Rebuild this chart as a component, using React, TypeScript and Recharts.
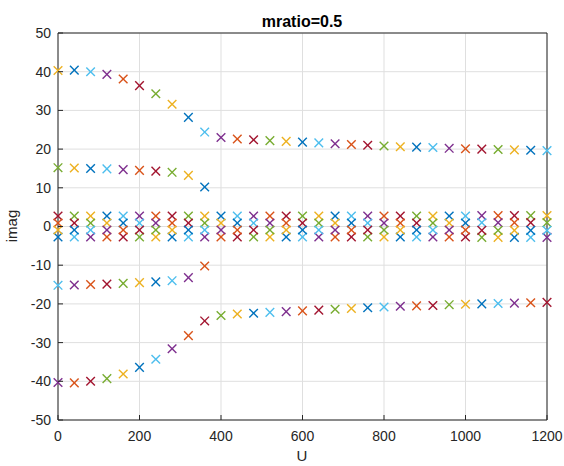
import React from 'react';
import { ScatterChart, Scatter, XAxis, YAxis, CartesianGrid } from 'recharts';

const U = [0, 40, 80, 120, 160, 200, 240, 280, 320, 360, 400, 440, 480, 520, 560, 600, 640, 680, 720, 760, 800, 840, 880, 920, 960, 1000, 1040, 1080, 1120, 1160, 1200];

const imagTop = [40.3, 40.4, 40.0, 39.3, 38.1, 36.4, 34.3, 31.6, 28.2, 24.4, 23.0, 22.6, 22.4, 22.2, 22.0, 21.8, 21.6, 21.4, 21.2, 21.0, 20.8, 20.6, 20.5, 20.4, 20.2, 20.1, 20.0, 19.9, 19.8, 19.7, 19.6];
const imagBottom = [-40.3, -40.4, -40.0, -39.3, -38.1, -36.4, -34.3, -31.6, -28.2, -24.4, -23.0, -22.6, -22.4, -22.2, -22.0, -21.8, -21.6, -21.4, -21.2, -21.0, -20.8, -20.6, -20.5, -20.4, -20.2, -20.1, -20.0, -19.9, -19.8, -19.7, -19.6];
const imagSecond = [15.2, 15.1, 15.0, 14.9, 14.7, 14.5, 14.3, 14.0, 13.2, 10.2];
const imagNegSecond = [-15.2, -15.1, -15.0, -14.9, -14.7, -14.5, -14.3, -14.0, -13.2, -10.2];
const imagNearPos2 = [2.7, 2.7, 2.7, 2.7, 2.7, 2.7, 2.7, 2.7, 2.7, 2.7, 2.7, 2.7, 2.7, 2.7, 2.7, 2.7, 2.7, 2.7, 2.7, 2.7, 2.7, 2.7, 2.7, 2.7, 2.7, 2.7, 2.8, 2.8, 2.8, 2.8, 2.8];
const imagNearNeg2 = [-2.7, -2.7, -2.7, -2.7, -2.7, -2.7, -2.7, -2.7, -2.7, -2.7, -2.7, -2.7, -2.7, -2.7, -2.7, -2.7, -2.7, -2.7, -2.7, -2.7, -2.7, -2.7, -2.7, -2.7, -2.7, -2.7, -2.8, -2.8, -2.8, -2.8, -2.8];
const imagNearPos1 = [0.9, 0.9, 0.9, 0.9, 0.9, 0.9, 0.9, 0.9, 0.9, 0.9, 0.9, 0.9, 0.9, 0.9, 0.9, 0.9, 0.9, 0.9, 0.9, 0.9, 0.9, 0.9, 0.9, 0.9, 0.9, 0.9, 1.0, 1.0, 1.0, 1.0, 1.0];
const imagNearNeg1 = [-0.9, -0.9, -0.9, -0.9, -0.9, -0.9, -0.9, -0.9, -0.9, -0.9, -0.9, -0.9, -0.9, -0.9, -0.9, -0.9, -0.9, -0.9, -0.9, -0.9, -0.9, -0.9, -0.9, -0.9, -0.9, -0.9, -1.0, -1.0, -1.0, -1.0, -1.0];

const xTicks = [0, 200, 400, 600, 800, 1000, 1200];
const yTicks = [-50, -40, -30, -20, -10, 0, 10, 20, 30, 40, 50];

const PALETTE = ['#0072BD', '#D95319', '#EDB120', '#7E2F8E', '#77AC30', '#4DBEEE', '#A2142F'];
const EIGS_PER_STEP = 12;

const seriesList = [imagTop, imagBottom, imagSecond, imagNegSecond, imagNearPos2, imagNearNeg2, imagNearPos1, imagNearNeg1];

type Pt = { x: number; y: number; c: string };
const points: Pt[] = [];
U.forEach((u, col) => {
  seriesList.forEach((s, j) => {
    const v = s[col];
    if (v === undefined || v === null) return;
    points.push({ x: u, y: v, c: PALETTE[(col * EIGS_PER_STEP + j + 2) % 7] });
  });
});

const AX = '#262626';
const FONT = '"Liberation Sans", Arial, Helvetica, sans-serif';

const XMarker = (props: any) => {
  const { cx, cy, payload } = props;
  if (cx == null || cy == null) return <g />;
  const r = 4.3;
  return (
    <g stroke={payload.c} strokeWidth={1.4}>
      <line x1={cx - r} y1={cy - r} x2={cx + r} y2={cy + r} />
      <line x1={cx - r} y1={cy + r} x2={cx + r} y2={cy - r} />
    </g>
  );
};

const PLOT = { left: 58, right: 547, top: 33, bottom: 420 };

const BottomTick = (props: any) => {
  const { x, payload } = props;
  const y = PLOT.bottom;
  return (
    <g>
      <line x1={x} x2={x} y1={y} y2={y - 5} stroke={AX} />
      <text x={x} y={y + 21} textAnchor="middle" fontSize={14} fontFamily={FONT} fill={AX}>
        {payload.value}
      </text>
    </g>
  );
};
const TopTick = (props: any) => {
  const { x } = props;
  const y = PLOT.top;
  return <line x1={x} x2={x} y1={y} y2={y + 5} stroke={AX} />;
};
const LeftTick = (props: any) => {
  const { y, payload } = props;
  const x = PLOT.left;
  return (
    <g>
      <line x1={x} x2={x + 5} y1={y} y2={y} stroke={AX} />
      <text x={x - 7} y={y} dy="0.35em" textAnchor="end" fontSize={14} fontFamily={FONT} fill={AX}>
        {payload.value}
      </text>
    </g>
  );
};
const RightTick = (props: any) => {
  const { y } = props;
  const x = PLOT.right;
  return <line x1={x} x2={x - 5} y1={y} y2={y} stroke={AX} />;
};

export default function App() {
  return (
    <div style={{ position: 'absolute', left: 0, top: 0, width: 564, height: 466, background: '#fff' }}>
      <ScatterChart width={564} height={466} margin={{ top: 3, right: 7, bottom: 16, left: 8 }}>
        <CartesianGrid stroke="#dfdfdf" strokeWidth={1} />
        <XAxis
          type="number"
          dataKey="x"
          domain={[0, 1200]}
          ticks={xTicks}
          height={30}
          tickSize={0}
          tickMargin={0}
          tick={BottomTick}
          axisLine={{ stroke: AX }}
          interval={0}
        />
        <XAxis
          xAxisId="top"
          orientation="top"
          type="number"
          domain={[0, 1200]}
          ticks={xTicks}
          height={30}
          tickSize={0}
          tickMargin={0}
          tick={TopTick}
          axisLine={{ stroke: AX }}
          interval={0}
        />
        <YAxis
          type="number"
          dataKey="y"
          domain={[-50, 50]}
          ticks={yTicks}
          width={50}
          tickSize={0}
          tickMargin={0}
          tick={LeftTick}
          axisLine={{ stroke: AX }}
          interval={0}
        />
        <YAxis
          yAxisId="right"
          orientation="right"
          type="number"
          domain={[-50, 50]}
          ticks={yTicks}
          width={10}
          tickSize={0}
          tickMargin={0}
          tick={RightTick}
          axisLine={{ stroke: AX }}
          interval={0}
        />
        <Scatter data={points} shape={XMarker} isAnimationActive={false} />
      </ScatterChart>
      <svg width={564} height={466} style={{ position: 'absolute', left: 0, top: 0, pointerEvents: 'none' }}>
        <text x={302} y={27} textAnchor="middle" fontSize={16} fontWeight="bold" fontFamily={FONT} fill="#000">
          mratio=0.5
        </text>
        <text x={302} y={461} textAnchor="middle" fontSize={15} fontFamily={FONT} fill={AX}>
          U
        </text>
        <text
          x={17}
          y={226}
          textAnchor="middle"
          fontSize={15}
          fontFamily={FONT}
          fill={AX}
          transform="rotate(-90 17 226)"
        >
          imag
        </text>
      </svg>
    </div>
  );
}
